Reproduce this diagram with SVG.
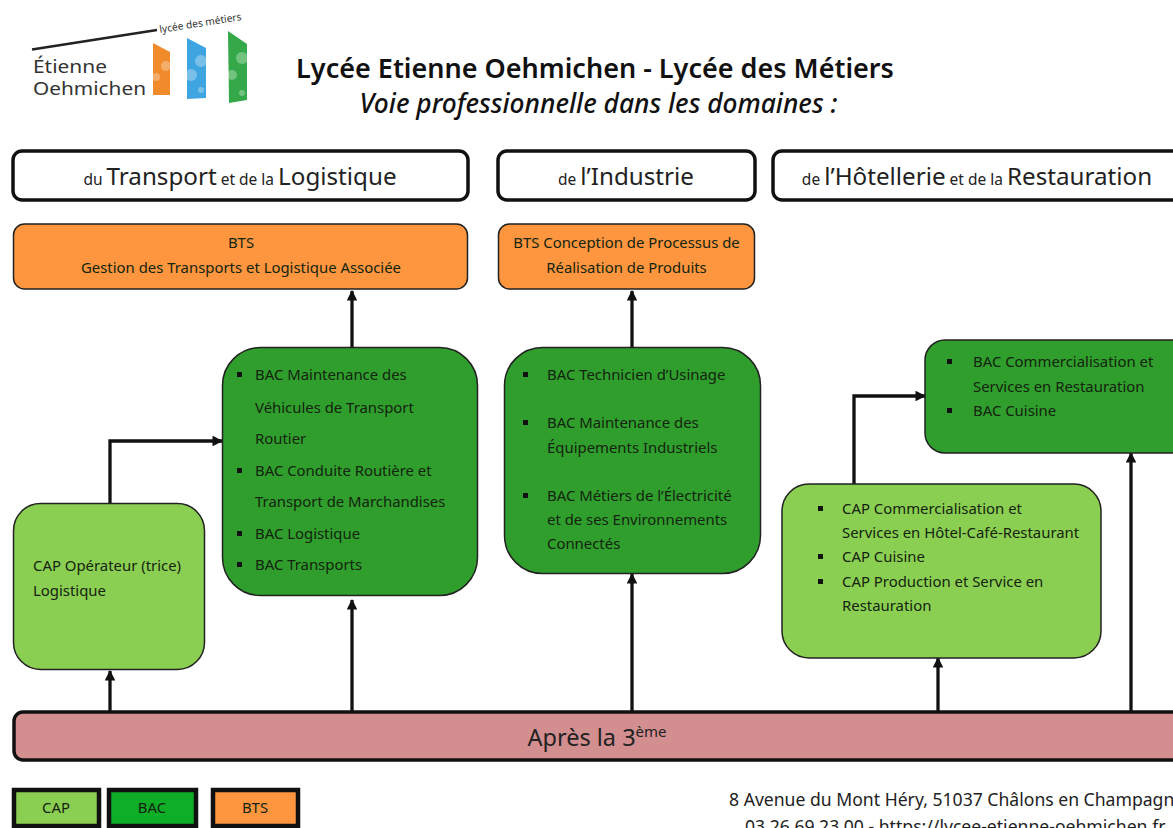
<svg xmlns="http://www.w3.org/2000/svg" width="1173" height="828" viewBox="0 0 1173 828">
<style>
text{font-family:"Noto Sans","Open Sans","Liberation Sans",sans-serif;fill:#14240f;font-size:14.9px}
.c{text-anchor:middle}
.head{fill:#fff;stroke:#111;stroke-width:3.5}
.h{font-size:24.200px;fill:#222}
.hs{font-size:15.500px}
.bts{fill:#fd963f;stroke:#222;stroke-width:1.5}
.bac{fill:#2f9e2c;stroke:#222;stroke-width:1.5}
.cap{fill:#8bcf52;stroke:#222;stroke-width:1.5}
.bul{fill:#111}
.leg{stroke:#111;stroke-width:4.5}
.conn{fill:none;stroke:#111;stroke-width:3.3}
.spot{fill:#fff;opacity:.3}
</style>
<defs>
<marker id="arr" viewBox="0 0 10 10" refX="9" refY="5" markerWidth="3.200" markerHeight="3.200" orient="auto-start-reverse" markerUnits="strokeWidth"><path d="M0 0L10 5L0 10z" fill="#111"/></marker>
</defs>
<g id="logo">
<path d="M32 49.500L157 30" fill="none" stroke="#222" stroke-width="2.500"/>
<text x="160" y="33" transform="rotate(-9 160 33)" style="font-size:10.200px;fill:#333">lycée des métiers</text>
<text x="33" y="73" style="font-size:18.500px;fill:#333" textLength="74" lengthAdjust="spacingAndGlyphs">Étienne</text>
<text x="33" y="95" style="font-size:18.500px;fill:#333" textLength="113" lengthAdjust="spacingAndGlyphs">Oehmichen</text>
<path d="M153 43L170 52V95L153 95z" fill="#f08a2a"/>
<circle class="spot" cx="166" cy="66" r="5"/><circle class="spot" cx="156" cy="77" r="4"/>
<path d="M187 38L206 48V98L187 99z" fill="#3fa5e0"/>
<circle class="spot" cx="201" cy="61" r="6"/><circle class="spot" cx="191" cy="75" r="6"/><circle class="spot" cx="201" cy="90" r="3"/>
<path d="M228 31L247 44V100L229 103z" fill="#35a84a"/>
<circle class="spot" cx="242" cy="58" r="6"/><circle class="spot" cx="232" cy="75" r="5"/><circle class="spot" cx="242" cy="93" r="3"/>
</g>
<g id="title">
<text x="595" y="78" class="c" style="font-size:27px;font-weight:600;fill:#111">Lycée Etienne Oehmichen - Lycée des Métiers</text>
<text x="598.500" y="113" class="c" style="font-size:26.300px;font-weight:500;font-style:italic;fill:#111">Voie professionnelle dans les domaines :</text>
</g>
<g id="connectors">
<path class="conn" d="M352 347V291" marker-end="url(#arr)"/>
<path class="conn" d="M632 347V291" marker-end="url(#arr)"/>
<path class="conn" d="M110 503V441H222" marker-end="url(#arr)"/>
<path class="conn" d="M854 484V396H925" marker-end="url(#arr)"/>
<path class="conn" d="M110 711V671" marker-end="url(#arr)"/>
<path class="conn" d="M352 711V600" marker-end="url(#arr)"/>
<path class="conn" d="M632 711V574" marker-end="url(#arr)"/>
<path class="conn" d="M938 711V658" marker-end="url(#arr)"/>
<path class="conn" d="M1131 711V453" marker-end="url(#arr)"/>
</g>
<g id="domain-transport">
<rect class="head" x="13" y="151" width="455" height="49" rx="9"/>
<text x="240" y="185" class="c h"><tspan class="hs">du </tspan>Transport<tspan class="hs"> et de la </tspan>Logistique</text>
</g>
<g id="domain-industrie">
<rect class="head" x="498" y="151" width="257" height="49" rx="9"/>
<text x="626" y="185" class="c h"><tspan class="hs">de </tspan>l’Industrie</text>
</g>
<g id="domain-hotellerie">
<rect class="head" x="773" y="151" width="420" height="49" rx="9"/>
<text x="977" y="185" class="c h"><tspan class="hs">de </tspan>l’Hôtellerie<tspan class="hs"> et de la </tspan>Restauration</text>
</g>
<g id="bts-gtla">
<rect class="bts" x="13.500" y="224" width="454" height="65" rx="11"/>
<text x="241" y="248" class="c">BTS</text>
<text x="241" y="273" class="c">Gestion des Transports et Logistique Associée</text>
</g>
<g id="bts-cprp">
<rect class="bts" x="498.500" y="224" width="256" height="65" rx="11"/>
<text x="626.500" y="248" class="c">BTS Conception de Processus de</text>
<text x="626.500" y="273" class="c">Réalisation de Produits</text>
</g>
<g id="bac-transport">
<rect class="bac" x="222.500" y="347.500" width="255" height="248" rx="38"/>
<rect class="bul" x="237" y="372" width="5" height="5"/><rect class="bul" x="237" y="468" width="5" height="5"/><rect class="bul" x="237" y="531" width="5" height="5"/><rect class="bul" x="237" y="562" width="5" height="5"/>
<text x="255" y="380">BAC Maintenance des</text>
<text x="255" y="413">Véhicules de Transport</text>
<text x="255" y="444">Routier</text>
<text x="255" y="476">BAC Conduite Routière et</text>
<text x="255" y="507">Transport de Marchandises</text>
<text x="255" y="539">BAC Logistique</text>
<text x="255" y="570">BAC Transports</text>
</g>
<g id="bac-industrie">
<rect class="bac" x="504.500" y="347.500" width="256" height="226" rx="38"/>
<rect class="bul" x="523" y="372" width="5" height="5"/><rect class="bul" x="523" y="420" width="5" height="5"/><rect class="bul" x="523" y="493" width="5" height="5"/>
<text x="547" y="380">BAC Technicien d’Usinage</text>
<text x="547" y="428">BAC Maintenance des</text>
<text x="547" y="453">Équipements Industriels</text>
<text x="547" y="501">BAC Métiers de l’Électricité</text>
<text x="547" y="525">et de ses Environnements</text>
<text x="547" y="549">Connectés</text>
</g>
<g id="bac-hotellerie">
<rect class="bac" x="925" y="340" width="270" height="113" rx="20"/>
<rect class="bul" x="947" y="359" width="5" height="5"/><rect class="bul" x="947" y="408" width="5" height="5"/>
<text x="973" y="367">BAC Commercialisation et</text>
<text x="973" y="392">Services en Restauration</text>
<text x="973" y="416">BAC Cuisine</text>
</g>
<g id="cap-logistique">
<rect class="cap" x="13.500" y="503.500" width="191" height="166" rx="27"/>
<text x="33" y="571">CAP Opérateur (trice)</text>
<text x="33" y="596">Logistique</text>
</g>
<g id="cap-hotellerie">
<rect class="cap" x="782" y="484" width="319" height="174" rx="27"/>
<rect class="bul" x="818" y="506" width="5" height="5"/><rect class="bul" x="818" y="554" width="5" height="5"/><rect class="bul" x="818" y="579" width="5" height="5"/>
<text x="842" y="514">CAP Commercialisation et</text>
<text x="842" y="538">Services en Hôtel-Café-Restaurant</text>
<text x="842" y="562">CAP Cuisine</text>
<text x="842" y="587">CAP Production et Service en</text>
<text x="842" y="611">Restauration</text>
</g>
<g id="apres-3e">
<rect x="14" y="712" width="1190" height="48" rx="9" fill="#d38e90" stroke="#111" stroke-width="3.500"/>
<text x="597" y="746" class="c" style="font-size:23.500px;fill:#222">Après la 3<tspan dy="-9" style="font-size:15px">ème</tspan></text>
</g>
<g id="legend-cap">
<rect class="leg" x="14" y="790" width="85" height="36" fill="#8bcf52"/>
<text x="56" y="813" class="c">CAP</text>
</g>
<g id="legend-bac">
<rect class="leg" x="109" y="790" width="87" height="36" fill="#0fae27"/>
<text x="152" y="813" class="c">BAC</text>
</g>
<g id="legend-bts">
<rect class="leg" x="213" y="790" width="85" height="36" fill="#fd963f"/>
<text x="255" y="813" class="c">BTS</text>
</g>
<g id="address">
<text x="729" y="806" style="font-size:17.600px;fill:#222">8 Avenue du Mont Héry, 51037 Châlons en Champagne</text>
<text x="745" y="833" style="font-size:17.600px;fill:#222">03 26 69 23 00 - https://lycee-etienne-oehmichen.fr</text>
</g>
</svg>
